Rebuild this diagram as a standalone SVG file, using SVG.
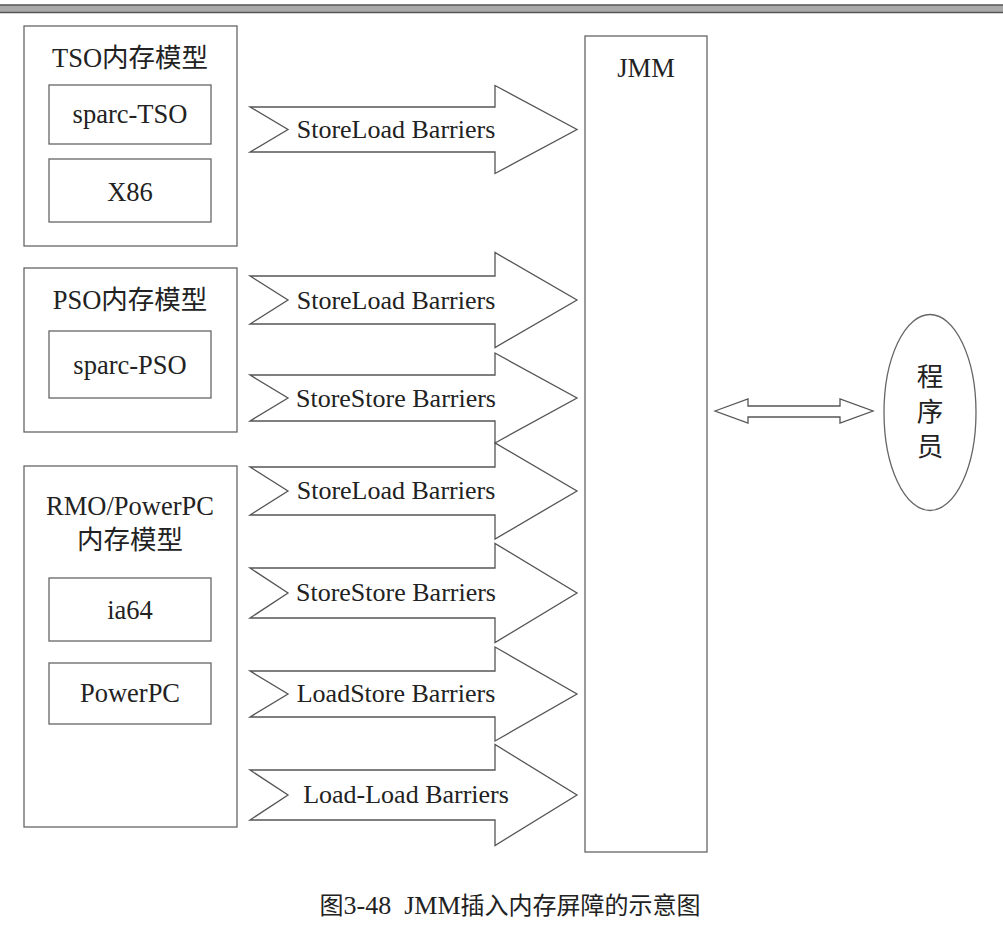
<svg xmlns="http://www.w3.org/2000/svg" width="1003" height="928" viewBox="0 0 1003 928">
<style>
.box{fill:#fff;stroke:#666;stroke-width:1.3}
.arr{fill:#fff;stroke:#555;stroke-width:1.3;stroke-linejoin:miter}
.t{font-family:"Liberation Serif","Noto Sans CJK SC",serif;font-size:26.5px;fill:#222;text-anchor:middle}
.a{font-family:"Liberation Serif",serif;font-size:26px;fill:#222;text-anchor:middle}
.c{font-family:"Noto Sans CJK SC",sans-serif;font-size:24px;fill:#222;text-anchor:middle}
</style>
<rect width="1003" height="928" fill="#fff"/>
<rect x="-2" y="5" width="1007" height="7.5" fill="#aaa" stroke="#555" stroke-width="1.5"/>
<g id="tso">
<rect class="box" x="24" y="26" width="213" height="220"/>
<text class="t" x="130" y="67">TSO内存模型</text>
</g>
<g id="sparc-tso">
<rect class="box" x="49" y="85" width="162" height="59"/>
<text class="t" x="130" y="123">sparc-TSO</text>
</g>
<g id="x86">
<rect class="box" x="49" y="159" width="162" height="63"/>
<text class="t" x="130" y="201">X86</text>
</g>
<g id="pso">
<rect class="box" x="24" y="268" width="213" height="164"/>
<text class="t" x="130" y="309">PSO内存模型</text>
</g>
<g id="sparc-pso">
<rect class="box" x="49" y="331" width="162" height="67"/>
<text class="t" x="130" y="374">sparc-PSO</text>
</g>
<g id="rmo">
<rect class="box" x="24" y="466" width="213" height="361"/>
<text class="t" x="130" y="515">RMO/PowerPC</text>
<text class="t" x="130" y="549">内存模型</text>
</g>
<g id="ia64">
<rect class="box" x="49" y="578" width="162" height="63"/>
<text class="t" x="130" y="619">ia64</text>
</g>
<g id="powerpc">
<rect class="box" x="49" y="663" width="162" height="61"/>
<text class="t" x="130" y="702">PowerPC</text>
</g>
<g id="jmm">
<rect class="box" x="585" y="36" width="122" height="816"/>
<text class="t" x="646" y="77">JMM</text>
</g>
<g id="programmer">
<ellipse class="box" cx="930" cy="412.5" rx="46" ry="98"/>
<text class="t" x="930" y="386">程</text>
<text class="t" x="930" y="421">序</text>
<text class="t" x="930" y="456">员</text>
</g>
<g id="connectors">
<path class="arr" d="M250,107 L495,107 L495,85.5 L577,129.5 L495,173.5 L495,152 L250,152 L288,129.5 Z"/>
<text class="a" x="396" y="138">StoreLoad Barriers</text>
<path class="arr" d="M250,276 L495,276 L495,252.5 L577,300 L495,347.5 L495,324 L250,324 L288,300 Z"/>
<text class="a" x="396" y="309">StoreLoad Barriers</text>
<path class="arr" d="M250,375 L495,375 L495,353 L577,398 L495,443 L495,421 L250,421 L288,398 Z"/>
<text class="a" x="396" y="407">StoreStore Barriers</text>
<path class="arr" d="M250,467 L495,467 L495,443 L577,491 L495,539 L495,515 L250,515 L288,491 Z"/>
<text class="a" x="396" y="499">StoreLoad Barriers</text>
<path class="arr" d="M250,568 L495,568 L495,543.5 L577,593 L495,642.5 L495,618 L250,618 L288,593 Z"/>
<text class="a" x="396" y="601">StoreStore Barriers</text>
<path class="arr" d="M250,671 L495,671 L495,647 L577,694 L495,741 L495,717 L250,717 L288,694 Z"/>
<text class="a" x="396" y="702">LoadStore Barriers</text>
<path class="arr" d="M250,770 L495,770 L495,744.5 L577,795 L495,845.5 L495,820 L250,820 L288,795 Z"/>
<text class="a" x="406" y="803">Load-Load Barriers</text>
<path class="arr" d="M715,411 L748,399 L748,406 L840,406 L840,399 L873,411 L840,423 L840,417 L748,417 L748,423 Z"/>
</g>
<text class="c" x="510" y="914">图<tspan font-family="Liberation Serif" font-size="26">3-48&#160;&#160;JMM</tspan>插入内存屏障的示意图</text>
</svg>
